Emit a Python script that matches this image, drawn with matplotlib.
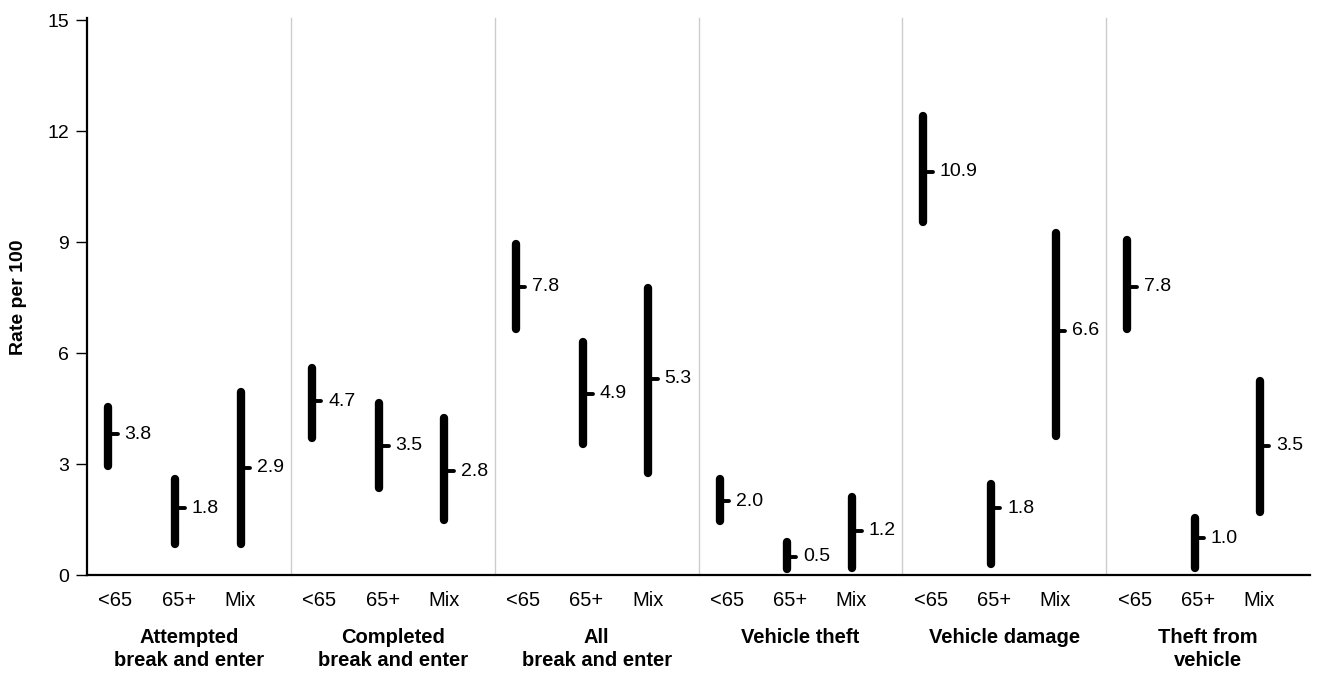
"""Rate per 100 with confidence ranges, by offence type and age group."""

import matplotlib

matplotlib.use("Agg")
import matplotlib.pyplot as plt

plt.rcParams["font.family"] = ["Liberation Sans", "DejaVu Sans"]

GROUPS = [
    "Attempted\nbreak and enter",
    "Completed\nbreak and enter",
    "All\nbreak and enter",
    "Vehicle theft",
    "Vehicle damage",
    "Theft from\nvehicle",
]
AGE_GROUPS = ["<65", "65+", "Mix"]

# point estimates per group, in AGE_GROUPS order
ESTIMATE = [
    [3.8, 1.8, 2.9],
    [4.7, 3.5, 2.8],
    [7.8, 4.9, 5.3],
    [2.0, 0.5, 1.2],
    [10.9, 1.8, 6.6],
    [7.8, 1.0, 3.5],
]
LOWER = [
    [2.95, 0.85, 0.85],
    [3.7, 2.35, 1.5],
    [6.65, 3.55, 2.75],
    [1.45, 0.15, 0.2],
    [9.55, 0.3, 3.75],
    [6.65, 0.2, 1.7],
]
UPPER = [
    [4.55, 2.6, 4.95],
    [5.6, 4.65, 4.25],
    [8.95, 6.3, 7.75],
    [2.6, 0.9, 2.1],
    [12.4, 2.45, 9.25],
    [9.05, 1.55, 5.25],
]

BAR_OFFSETS = [0.31, 1.30, 2.26]
LABEL_OFFSETS = [0.42, 1.35, 2.25]


def main() -> None:
    figure = plt.figure(figsize=(13.18, 6.73), dpi=100)
    axis = figure.add_axes([0.066, 0.1456, 0.928, 0.8244])

    for group_index in range(len(GROUPS)):
        base = group_index * 3
        if group_index > 0:
            axis.axvline(base, ymin=0, ymax=1.004, color="#cccccc", linewidth=1, clip_on=False)
        for age_index in range(len(AGE_GROUPS)):
            x = base + BAR_OFFSETS[age_index]
            est = ESTIMATE[group_index][age_index]
            axis.plot([x, x], [LOWER[group_index][age_index], UPPER[group_index][age_index]],
                      color="black", linewidth=6, solid_capstyle="round")
            axis.plot([x, x + 0.14], [est, est], color="black", linewidth=2.8, solid_capstyle="round")
            axis.text(x + 0.24, est, f"{est:.1f}", ha="left", va="center", fontsize=14)

    axis.set_xlim(0, 18)
    axis.set_ylim(0, 15)
    axis.set_yticks([0, 3, 6, 9, 12, 15])
    axis.tick_params(axis="y", labelsize=14, length=8, width=1, direction="out", pad=5)
    axis.set_xticks([])
    axis.set_ylabel("Rate per 100", fontsize=14, fontweight="bold", va="center")
    axis.yaxis.set_label_coords(-0.0556, 0.5)

    for group_index, group in enumerate(GROUPS):
        base = group_index * 3
        for age_index, age in enumerate(AGE_GROUPS):
            axis.text(base + LABEL_OFFSETS[age_index], -0.7, age, ha="center", va="center",
                      fontsize=14.5)
        axis.text(base + 1.5, -1.42, group, ha="center", va="top", fontsize=14.5,
                  fontweight="bold", linespacing=1.3)

    for side in ("top", "right"):
        axis.spines[side].set_visible(False)
    axis.spines["left"].set_linewidth(1.6)
    axis.spines["bottom"].set_linewidth(1.6)
    axis.spines["left"].set_bounds(0, 15.05)

    figure.savefig("out.png", dpi=100)


if __name__ == "__main__":
    main()
